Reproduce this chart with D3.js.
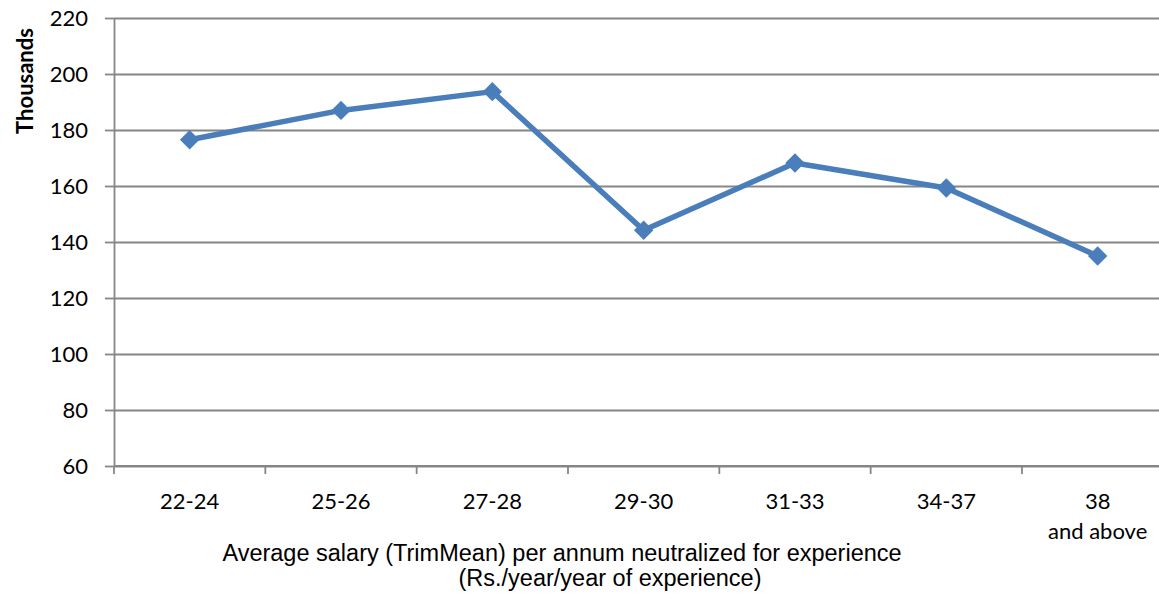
<!DOCTYPE html>
<html>
<head>
<meta charset="utf-8">
<script src="https://cdn.jsdelivr.net/npm/d3@7"></script>
<style>
  body { margin: 0; background: #fff; }
  .tickText { font-family: Lato, "Open Sans", sans-serif; font-size: 22px; fill: #000; }
  .aText { font-family: "Liberation Sans", Arial, sans-serif; font-size: 23.5px; fill: #000; }
</style>
</head>
<body>
<div id="chart"></div>
<script>
// chart data (salary in Rs., axis shows thousands)
var categories = ["22-24", "25-26", "27-28", "29-30", "31-33", "34-37", "38\nand above"];
var salaries = [176500, 187000, 193700, 144200, 168200, 159300, 135000];
var yTicks = [60, 80, 100, 120, 140, 160, 180, 200, 220];

var svgWidth = 1159;
var svgHeight = 598;

var margin = { top: 18, left: 114 };
var height = 448;
var width = 7 * 151.33;   // plot runs past the right edge, like the original

var svg = d3.select("#chart")
  .append("svg")
  .attr("width", svgWidth)
  .attr("height", svgHeight)
  .style("overflow", "hidden");

var chartGroup = svg.append("g")
  .attr("transform", `translate(${margin.left}, ${margin.top})`);

// scales
var xScale = d3.scaleBand()
  .domain(categories)
  .range([0, width])
  .padding(0);

var yScale = d3.scaleLinear()
  .domain([60, 220])
  .range([height, 0]);

var gridColor = "#868686";

// gridlines
chartGroup.append("g")
  .call(d3.axisLeft(yScale).tickValues(yTicks).tickSize(-width).tickFormat(""))
  .call(g => g.select(".domain").remove())
  .selectAll("line")
  .attr("stroke", gridColor)
  .attr("stroke-width", 1.8);

// y axis
var yAxis = chartGroup.append("g")
  .call(d3.axisLeft(yScale).tickValues(yTicks).tickSize(9).tickPadding(17).tickSizeOuter(0));
yAxis.select(".domain").attr("stroke", gridColor).attr("stroke-width", 1.8);
yAxis.selectAll("line").attr("stroke", gridColor).attr("stroke-width", 1.8);
yAxis.selectAll("text")
  .attr("class", "tickText")
  .attr("font-family", null)
  .attr("font-size", null);

// x axis line
chartGroup.append("line")
  .attr("x1", 0)
  .attr("x2", width)
  .attr("y1", height)
  .attr("y2", height)
  .attr("stroke", gridColor)
  .attr("stroke-width", 1.8);

// x tick marks on band edges
var edges = categories.map(c => xScale(c)).concat([width]);
chartGroup.selectAll(".xtick")
  .data(edges)
  .enter()
  .append("line")
  .attr("class", "xtick")
  .attr("x1", d => d)
  .attr("x2", d => d)
  .attr("y1", height)
  .attr("y2", height + 8)
  .attr("stroke", gridColor)
  .attr("stroke-width", 1.8);

// x labels (may have two lines)
var xLabels = chartGroup.selectAll(".xlabel")
  .data(categories)
  .enter()
  .append("text")
  .attr("class", "tickText")
  .attr("text-anchor", "middle")
  .attr("x", d => xScale(d) + xScale.bandwidth() / 2)
  .attr("y", height + 43);

xLabels.each(function(d) {
  var el = d3.select(this);
  d.split("\n").forEach(function(part, i) {
    el.append("tspan")
      .attr("x", xScale(d) + xScale.bandwidth() / 2)
      .attr("dy", i === 0 ? 0 : 30)
      .text(part);
  });
});

// line + diamond markers
var points = categories.map((c, i) => ({ cat: c, value: salaries[i] / 1000 }));
var lineColor = "#4a7ebb";

var line = d3.line()
  .x(d => xScale(d.cat) + xScale.bandwidth() / 2)
  .y(d => yScale(d.value));

chartGroup.append("path")
  .datum(points)
  .attr("d", line)
  .attr("fill", "none")
  .attr("stroke", lineColor)
  .attr("stroke-width", 5.5)
  .attr("stroke-linejoin", "round");

chartGroup.selectAll(".marker")
  .data(points)
  .enter()
  .append("path")
  .attr("class", "marker")
  .attr("d", d3.symbol().type(d3.symbolDiamond2).size(240))
  .attr("transform", d => `translate(${xScale(d.cat) + xScale.bandwidth() / 2}, ${yScale(d.value)})`)
  .attr("fill", lineColor);

// axis titles
svg.append("text")
  .attr("transform", "translate(33, 81) rotate(-90)")
  .attr("text-anchor", "middle")
  .style("font-family", "Lato, 'Open Sans', sans-serif")
  .style("font-size", "22px")
  .style("font-weight", "bold")
  .text("Thousands");

svg.append("text")
  .attr("class", "aText")
  .attr("text-anchor", "middle")
  .attr("x", 562)
  .attr("y", 561)
  .text("Average salary (TrimMean) per annum neutralized for experience");

svg.append("text")
  .attr("class", "aText")
  .attr("text-anchor", "middle")
  .attr("x", 610)
  .attr("y", 586)
  .text("(Rs./year/year of experience)");
</script>
</body>
</html>
